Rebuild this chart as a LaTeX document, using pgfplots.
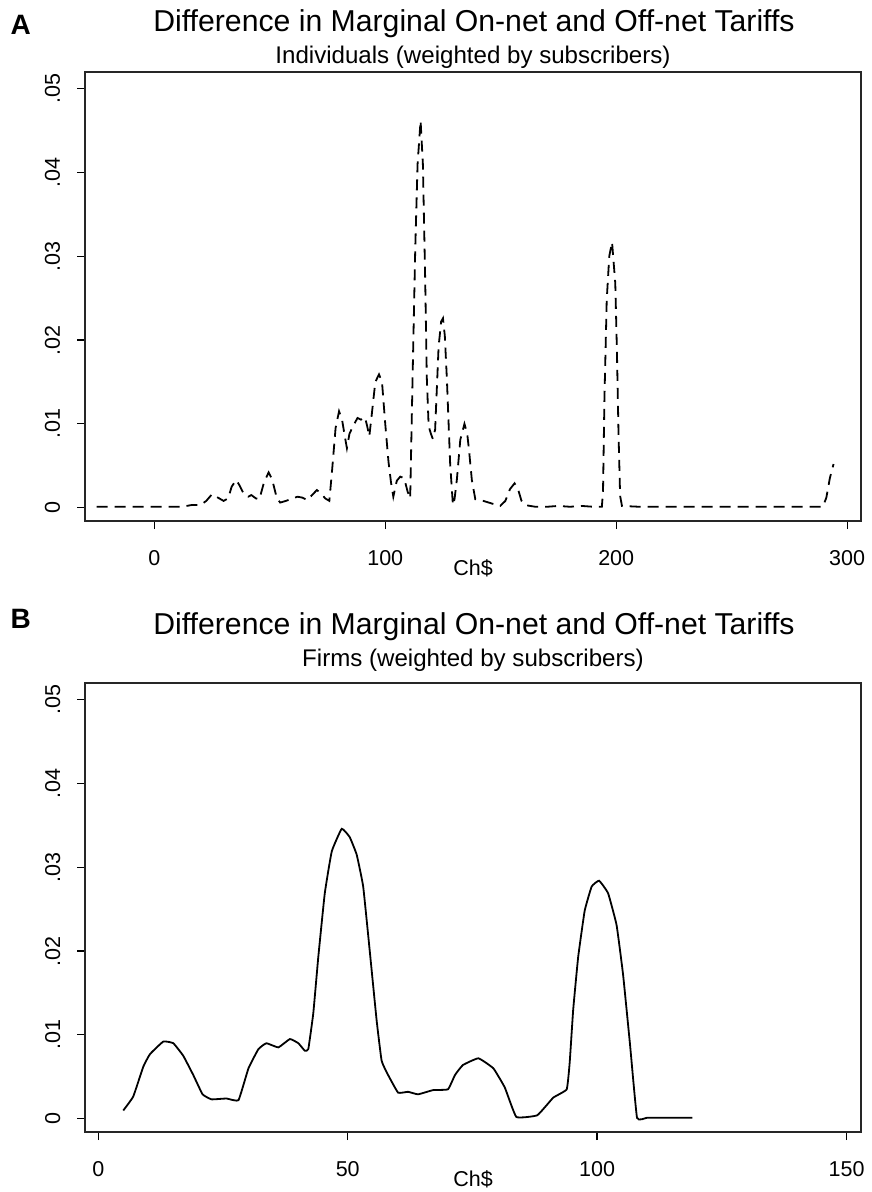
\documentclass[border=0pt]{standalone}
\usepackage{pgfplots}
\pgfplotsset{compat=1.18}
\usepackage{fontspec}
\setmainfont{Liberation Sans}
\newcommand{\tfont}{\fontsize{21.5}{21.5}\selectfont}
\pgfplotsset{
  panel/.style={
    scale only axis, width=776pt, height=449pt,
    ymin=-0.0016, ymax=0.052,
    tick align=outside, tick pos=left,
    major tick length=8pt,
    every tick/.style={line width=1.3pt, black},
    axis line style={line width=1.6pt, black!85},
    ytick={0,0.01,0.02,0.03,0.04,0.05},
    yticklabels={0,.01,.02,.03,.04,.05},
    ticklabel style={font=\tfont},
    xticklabel style={anchor=base, yshift=-36pt},
    yticklabel style={xshift=-17pt, rotate=90, anchor=base},
    xlabel={Ch\$},
    xlabel style={font=\tfont, at={(axis description cs:0.5,0)}, anchor=base, yshift=-54pt},
    scaled y ticks=false,
  }
}
\begin{document}
\begin{tikzpicture}
\useasboundingbox (0pt,0pt) rectangle (872pt,-1192pt);
% Panel A
\node[anchor=base west, font=\fontsize{28}{28}\selectfont\bfseries] at (7pt,-34pt) {A};
\node[anchor=base, font=\fontsize{30.2}{30.2}\selectfont] at (474pt,-31pt) {Difference in Marginal On-net and Off-net Tariffs};
\node[anchor=base, font=\fontsize{24.1}{24.1}\selectfont] at (473pt,-63pt) {Individuals (weighted by subscribers)};
\begin{axis}[panel, at={(85pt,-521pt)}, anchor=south west,
  xmin=-30, xmax=306,
  xtick={0,100,200,300}, xticklabels={0,100,200,300}]
\addplot[black, line width=1.8pt, dash pattern=on 11pt off 7pt] coordinates {
(-25,0.0001) (12,0.0001) (16,0.0003) (20,0.0003) (22.5,0.0008) (25,0.0016)
(27.5,0.0012) (30,0.0008) (32,0.0011) (33.5,0.0025) (35.5,0.0033) (37,0.0026)
(39,0.0015) (40.7,0.0013) (42,0.0015) (44,0.0011) (45.5,0.0010) (47.5,0.0030)
(49.5,0.0042) (51,0.0034) (53,0.0012) (54.5,0.0006) (57,0.0008) (59,0.0010)
(62,0.0013) (64,0.0012) (66.3,0.0009) (68,0.0014) (70.4,0.0021) (72.5,0.0016)
(74,0.0011) (75.8,0.0008) (77,0.0045) (78.5,0.0095) (80,0.0115) (81.3,0.0105)
(82.5,0.0085) (83.4,0.0071) (84.5,0.0088) (86,0.0097) (88,0.0107) (89.5,0.0105)
(91.2,0.0108) (92.2,0.0097) (93.1,0.0085) (94.2,0.0112) (95.7,0.0150) (97.3,0.0159)
(98.6,0.0150) (100,0.0100) (101.4,0.0055) (102.5,0.0030) (103.5,0.0013) (105,0.0032)
(106.5,0.0037) (108.2,0.0035) (109.7,0.0019) (110.8,0.0011) (111.8,0.0150) (113,0.0310)
(114,0.0410) (115.3,0.0462) (116.3,0.0410) (117.3,0.0272) (118,0.0155) (118.8,0.0097)
(119.8,0.0088) (120.6,0.0082) (121.6,0.0093) (123.1,0.0192) (124.2,0.0222) (125,0.0226)
(125.8,0.0205) (126.7,0.0153) (128.1,0.0053) (129.3,0.0003) (130,0.0010) (131,0.0033)
(132.5,0.0081) (134.3,0.0100) (135.5,0.0088) (136.3,0.0068) (137.5,0.0033) (139,0.0010)
(142.5,0.0008) (146,0.0005) (149.8,0.0002) (152,0.0008) (154,0.0022) (156,0.0029)
(157.5,0.0022) (159,0.0008) (160.6,0.0003) (165,0.0001) (170,0.0001) (175,0.0002)
(180,0.0001) (185,0.0002) (190,0.0001) (193.8,0.0001) (194.3,0.0020) (194.9,0.0129)
(195.9,0.0248) (197,0.0300) (198.2,0.0317) (199.6,0.0268) (200.3,0.0189) (201,0.0089)
(201.7,0.0014) (202.5,0.0002) (210,0.0001) (250,0.0001) (289.5,0.0001) (291,0.0012)
(292.5,0.0035) (294.1,0.0052)
};
\end{axis}
% Panel B
\node[anchor=base west, font=\fontsize{28}{28}\selectfont\bfseries] at (7pt,-628pt) {B};
\node[anchor=base, font=\fontsize{30.2}{30.2}\selectfont] at (474pt,-634pt) {Difference in Marginal On-net and Off-net Tariffs};
\node[anchor=base, font=\fontsize{24.1}{24.1}\selectfont] at (473pt,-666pt) {Firms (weighted by subscribers)};
\begin{axis}[panel, at={(85pt,-1132pt)}, anchor=south west,
  xmin=-2.67, xmax=152.9,
  xtick={0,50,100,150}, xticklabels={0,50,100,150}]
\addplot[black, line width=1.8pt, smooth, tension=0.2] coordinates {
(5.01,0.00097) (7.01,0.00265) (9.02,0.0062) (10.36,0.0077) (13.03,0.0092) (15.03,0.0090)
(17.03,0.0075) (19.04,0.0052) (20.9,0.0029) (22.7,0.0023) (25.7,0.0024) (28.1,0.0022)
(30.1,0.0060) (32.1,0.0083) (33.7,0.0090) (36.1,0.0085) (38.4,0.0095) (40.1,0.0090)
(41.4,0.0081) (42.1,0.0083) (43.1,0.0126) (44.1,0.0193) (45.4,0.0269) (46.8,0.0319)
(48.8,0.0346) (50.4,0.0336) (51.8,0.0315) (53.1,0.0277) (54.4,0.0201) (55.8,0.0117)
(56.8,0.0069) (58.1,0.0052) (60.1,0.0031) (62.1,0.0032) (64.1,0.0029) (67.1,0.0034)
(70.1,0.0035) (71.5,0.0052) (73.1,0.0064) (76.2,0.0072) (79.2,0.0060) (81.5,0.0037)
(83.8,0.0002) (88,0.0004) (91.2,0.0025) (93.9,0.0035) (94.5,0.0067) (95.2,0.0130)
(96.2,0.0193) (97.5,0.0248) (98.9,0.0277) (100.4,0.0284) (102.2,0.0269) (103.9,0.0231)
(105.2,0.0172) (106.6,0.0088) (108,0.0001) (110,0.0001) (113.9,0.0001) (119.1,0.0001)
};
\end{axis}
\end{tikzpicture}
\end{document}
